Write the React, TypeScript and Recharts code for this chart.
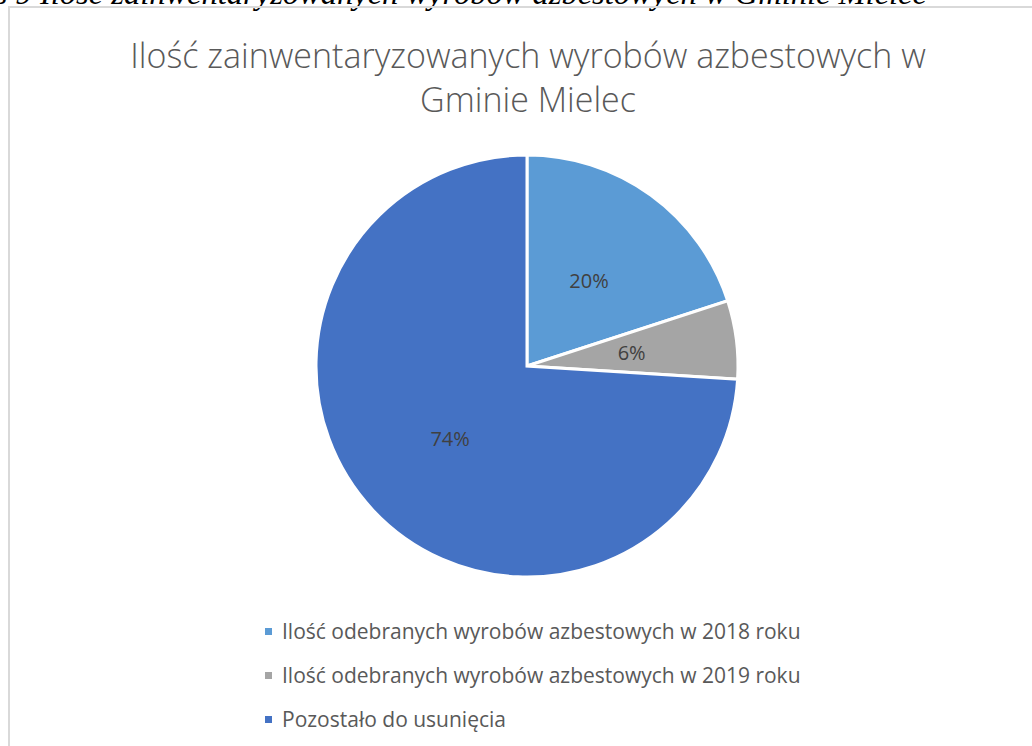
import { Cell, Legend, Pie, PieChart } from 'recharts';

const categories = [
  'Ilość odebranych wyrobów azbestowych w 2018 roku',
  'Ilość odebranych wyrobów azbestowych w 2019 roku',
  'Pozostało do usunięcia',
];
const shares = [20, 6, 74];
const colors = ['#5B9BD5', '#A5A5A5', '#4472C4'];

const titleLines = ['Ilość zainwentaryzowanych wyrobów azbestowych w', 'Gminie Mielec'];
const caption = 'Wykres 9 Ilość zainwentaryzowanych wyrobów azbestowych w Gminie Mielec';

const data = categories.map((name, i) => ({ name, value: shares[i] }));

const FONT = '"Open Sans", "Noto Sans", sans-serif';
const RAD = Math.PI / 180;

function SliceLabel(props: any) {
  const { cx, cy, midAngle, outerRadius, value } = props;
  const r = outerRadius * 0.5;
  const x = cx + r * Math.cos(-midAngle * RAD);
  const y = cy + r * Math.sin(-midAngle * RAD);
  return (
    <text x={x} y={y} textAnchor="middle" dominantBaseline="central" fill="#404040" fontSize={20} fontFamily={FONT}>
      {`${value}%`}
    </text>
  );
}

function LegendList({ payload }: any) {
  return (
    <div style={{ fontFamily: FONT, textAlign: 'left' }}>
      {(payload || []).map((p: any) => (
        <div key={p.value} style={{ display: 'flex', alignItems: 'center', height: 44, color: '#595959', fontSize: 21 }}>
          <span style={{ width: 7, height: 7, background: p.color, marginRight: 10, display: 'inline-block' }} />
          {p.value}
        </div>
      ))}
    </div>
  );
}

export default function App() {
  return (
    <div style={{ position: 'absolute', left: 0, top: 0, width: 1032, height: 746, overflow: 'hidden', background: '#fff' }}>
      <div
        style={{
          position: 'absolute',
          left: -84,
          top: -25,
          fontFamily: '"Liberation Serif", serif',
          fontStyle: 'italic',
          fontSize: 32.5,
          whiteSpace: 'nowrap',
          color: '#000',
        }}
      >
        {caption}
      </div>
      <div
        style={{
          position: 'absolute',
          left: 8,
          top: 6,
          width: 1100,
          height: 800,
          borderLeft: '2px solid #d9d9d9',
          borderTop: '2px solid #d9d9d9',
        }}
      />
      <div
        style={{
          position: 'absolute',
          left: 0,
          top: 33,
          width: 1056,
          textAlign: 'center',
          fontFamily: FONT,
          fontWeight: 300,
          fontSize: 34,
          lineHeight: '44px',
          color: '#595959',
        }}
      >
        {titleLines.map((t) => (
          <div key={t}>{t}</div>
        ))}
      </div>
      <div style={{ position: 'absolute', left: 0, top: 0 }}>
        <PieChart width={1032} height={746}>
          <Pie
            data={data}
            dataKey="value"
            nameKey="name"
            cx={522}
            cy={361}
            outerRadius={211}
            startAngle={90}
            endAngle={-270}
            stroke="#fff"
            strokeWidth={3}
            label={SliceLabel}
            labelLine={false}
            isAnimationActive={false}
          >
            {data.map((d, i) => (
              <Cell key={d.name} fill={colors[i]} />
            ))}
          </Pie>
          <Legend
            layout="horizontal"
            verticalAlign="bottom"
            align="left"
            content={LegendList}
            wrapperStyle={{ position: 'absolute', left: 265, top: 609, bottom: 'auto', width: 600 }}
          />
        </PieChart>
      </div>
    </div>
  );
}
